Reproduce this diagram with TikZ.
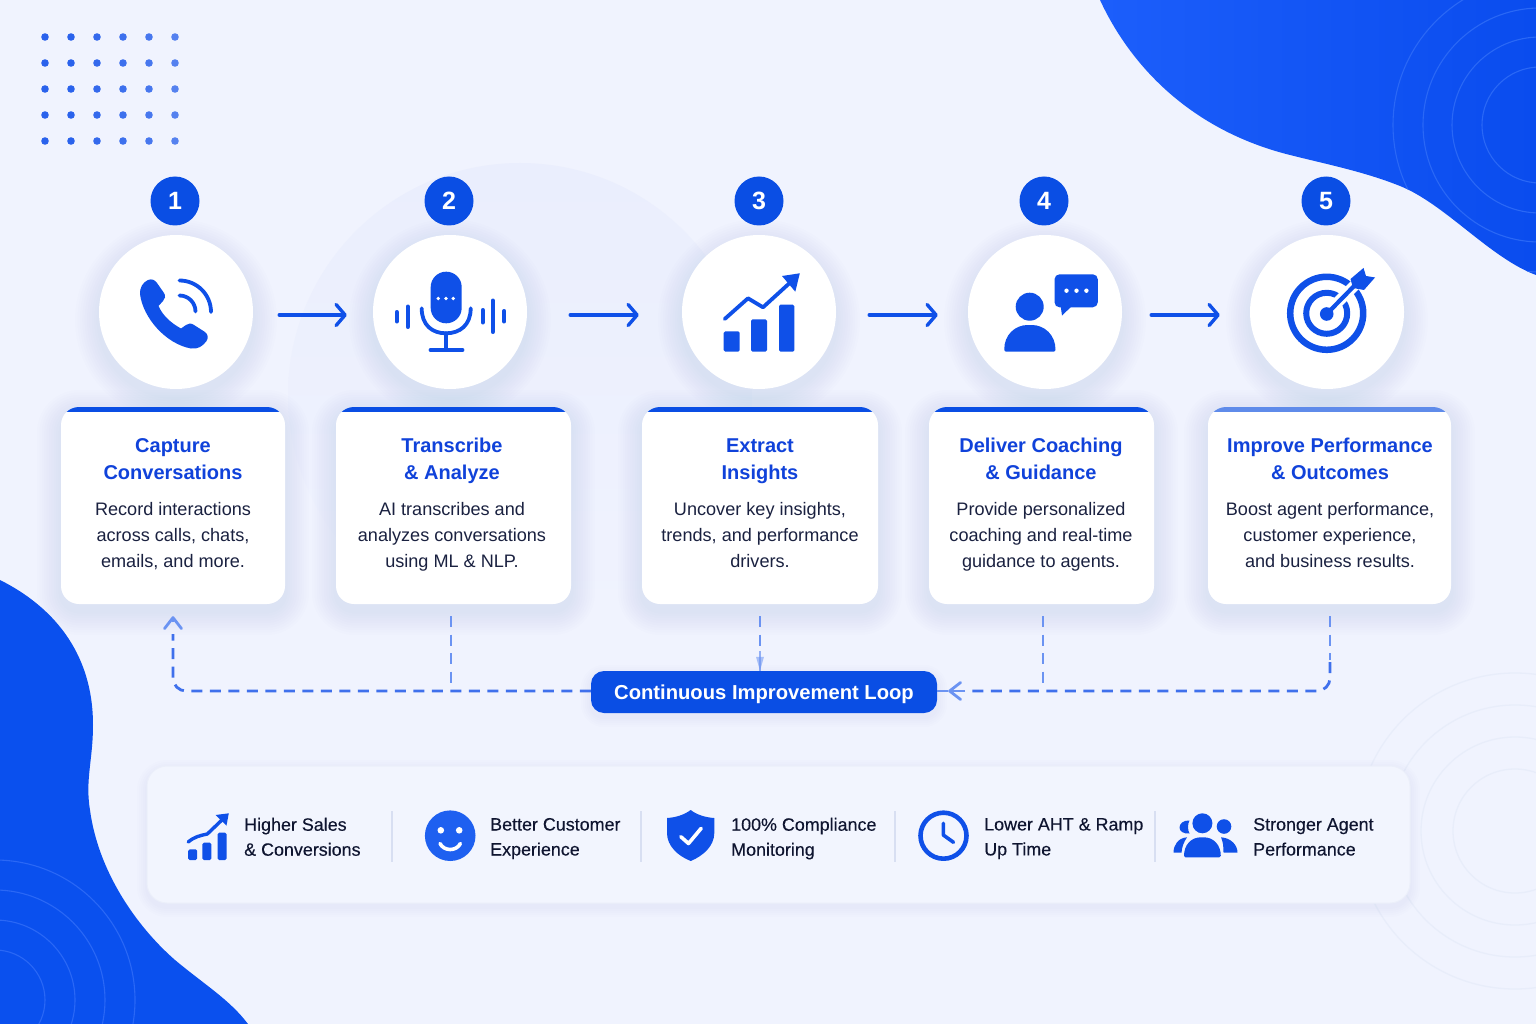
\documentclass[tikz,border=0pt]{standalone}
\usepackage{fontspec}
\setmainfont{Liberation Sans}
\newfontfamily\medfont[FakeBold=0.3]{Liberation Sans}
\usetikzlibrary{arrows.meta,calc}
\definecolor{bgc}{HTML}{F0F3FE}
\definecolor{blobA}{HTML}{1C5EFB}
\definecolor{blobB}{HTML}{0A4CEE}
\definecolor{blobC}{HTML}{0A50EE}
\definecolor{ringA}{HTML}{2A68F6}
\definecolor{ringB}{HTML}{E8EDFA}
\definecolor{halo}{HTML}{EAEEFD}
\definecolor{brand}{HTML}{0A4EE4}
\definecolor{iconblue}{HTML}{0F50E8}
\definecolor{smile}{HTML}{1E60F0}
\definecolor{titleblue}{HTML}{1042DA}
\definecolor{bodyink}{HTML}{1A2140}
\definecolor{panelink}{HTML}{0F1530}
\definecolor{dashc}{HTML}{3F70EC}
\definecolor{dashl}{HTML}{6B93F2}
\definecolor{sepc}{HTML}{D8DFF2}
\definecolor{panelc}{HTML}{F2F5FE}
\definecolor{paneledge}{HTML}{EBEFFA}
\definecolor{shadowc}{HTML}{5068B8}
\definecolor{barsoft}{HTML}{5F8BEA}
\definecolor{dotc}{HTML}{2A62EC}
\tikzset{
  iconcircle/.style={circle,fill=white,minimum size=154pt,inner sep=0pt},
  badge/.style={circle,fill=brand,minimum size=49pt,inner sep=0pt,text=white,font=\bfseries\fontsize{25}{26}\selectfont},
  card/.style={rectangle,fill=white,rounded corners=18pt,inner sep=0pt},
  titletext/.style={align=center,inner sep=0pt,text=titleblue,font=\bfseries\fontsize{20}{27}\selectfont,execute at begin node=\strut,execute at end node=\strut},
  bodytext/.style={align=center,inner sep=0pt,text=bodyink,font=\fontsize{18.1}{26}\selectfont,execute at begin node=\strut,execute at end node=\strut},
  paneltext/.style={anchor=west,align=left,inner sep=0pt,text=panelink,font=\medfont\fontsize{17.9}{25}\selectfont,execute at begin node=\strut,execute at end node=\strut},
  flowarrow/.style={draw=iconblue,line width=3.4pt,line cap=round,-{Straight Barb[length=9pt,width=21pt,line width=3.4pt,round]}},
  loopline/.style={draw=dashc,line width=2.8pt,dash pattern=on 11pt off 7.5pt},
  loopvert/.style={draw=dashl,line width=2.8pt,dash pattern=on 11pt off 7.5pt},
  loophead/.style={draw=dashl,line width=2.8pt,-{Straight Barb[length=11pt,width=17pt,line width=2.8pt,round]}},
  ic/.style={fill=iconblue,draw=none},
  icl/.style={draw=iconblue,line cap=round,line join=round,fill=none},
  wl/.style={draw=white,line cap=round,line join=round,fill=none},
  seprule/.style={draw=sepc,line width=1.8pt},
}
\newcommand\softrect[5]{%
  \foreach \i in {1,...,10}{
    \fill[shadowc,opacity=.0065,rounded corners=#5+\i*2.4] ({#1-\i*2.4},{#2-\i*2.4+7}) rectangle ({#3+\i*2.4},{#4+\i*2.4+7});
  }}
\newcommand\softcirc[3]{%
  \foreach \i in {1,...,10}{
    \fill[shadowc,opacity=.0065] (#1,{#2+8}) circle[radius={#3+\i*2.4}];
  }}
\newcommand\blobTR{(1100,0) .. controls (1130,65) and (1190,130) .. (1290,155) .. controls (1330,165) and (1365,172) .. (1400,186) .. controls (1445,204) and (1490,258) .. (1536,275) -- (1536,0) -- cycle}
\newcommand\blobBL{(0,580) .. controls (50,605) and (93,650) .. (93,725) .. controls (93,760) and (85,780) .. (90,810) .. controls (98,870) and (135,925) .. (175,960) .. controls (205,985) and (230,1000) .. (248,1024) -- (0,1024) -- cycle}
\begin{document}
\begin{tikzpicture}[x=1pt,y=-1pt]
\useasboundingbox (0,0) rectangle (1536,1024);
\fill[bgc] (0,0) rectangle (1536,1024);
% faint disc behind steps 2-3
\shade[top color=halo,bottom color=bgc] (520,395) circle[radius=232];
% blobs
\shade[left color=blobA,right color=blobB] \blobTR;
\begin{scope}
\clip \blobTR;
\foreach \r in {58,88,117,147}{\draw[ringA,line width=1.1pt] (1540,125) circle[radius=\r];}
\end{scope}
\fill[blobC] \blobBL;
\begin{scope}
\clip \blobBL;
\foreach \r in {50,80,110,140}{\draw[ringA,line width=1.1pt] (-5,1000) circle[radius=\r];}
\end{scope}
% rings at lower right
\foreach \r in {62,94,126,158}{\draw[ringB,line width=1.3pt] (1515,831) circle[radius=\r];}
% dot grid
\foreach \y in {37,63,89,115,141}{
  \foreach \x/\o in {45/1,71/1,97/.95,123/.9,149/.85,175/.78}{
    \fill[dotc,opacity=\o] (\x,\y) circle[radius=3.8];
  }}
% shadows
\softcirc{176}{312}{77}\softcirc{450}{312}{77}\softcirc{759}{312}{77}\softcirc{1045}{312}{77}\softcirc{1327}{312}{77}
\softrect{61}{407}{285}{604}{18}\softrect{336}{407}{571}{604}{18}\softrect{642}{407}{878}{604}{18}\softrect{929}{407}{1154}{604}{18}\softrect{1208}{407}{1451}{604}{18}
\foreach \i in {1,...,5}{\fill[shadowc,opacity=.007,rounded corners=20+\i*2] ({147-\i*2},{766-\i*2+4}) rectangle ({1410+\i*2},{903+\i*2+4});}
% icon circles and badges
\node[iconcircle] (c1) at (176,312) {};
\node[iconcircle] (c2) at (450,312) {};
\node[iconcircle] (c3) at (759,312) {};
\node[iconcircle] (c4) at (1045,312) {};
\node[iconcircle] (c5) at (1327,312) {};
\node[badge] (b1) at (175,201) {1};
\node[badge] (b2) at (449,201) {2};
\node[badge] (b3) at (759,201) {3};
\node[badge] (b4) at (1044,201) {4};
\node[badge] (b5) at (1326,201) {5};
% cards
\node[card,minimum width=224pt,minimum height=197pt] (card1) at (173,505.5) {};
\node[card,minimum width=235pt,minimum height=197pt] (card2) at (453.5,505.5) {};
\node[card,minimum width=236pt,minimum height=197pt] (card3) at (760,505.5) {};
\node[card,minimum width=225pt,minimum height=197pt] (card4) at (1041.5,505.5) {};
\node[card,minimum width=243pt,minimum height=197pt] (card5) at (1329.5,505.5) {};
\foreach \a/\b/\c in {61/285/brand,336/571/brand,642/878/brand,929/1154/brand,1208/1451/barsoft}{
  \begin{scope}
    \clip[rounded corners=18pt] (\a,407) rectangle (\b,604);
    \fill[\c] (\a,407) rectangle (\b,411.5);
  \end{scope}
}
% card text
\node[titletext] (t1) at (173,463) {Capture\\Conversations};
\node[titletext] (t2) at (452,463) {Transcribe\\\& Analyze};
\node[titletext] (t3) at (760,463) {Extract\\Insights};
\node[titletext] (t4) at (1041,463) {Deliver Coaching\\\& Guidance};
\node[titletext] (t5) at (1330,463) {Improve Performance\\\& Outcomes};
\node[bodytext] (d1) at (173,538.5) {Record interactions\\across calls, chats,\\emails, and more.};
\node[bodytext] (d2) at (452,538.5) {AI transcribes and\\analyzes conversations\\using ML \& NLP.};
\node[bodytext] (d3) at (760,538.5) {Uncover key insights,\\trends, and performance\\drivers.};
\node[bodytext] (d4) at (1041,538.5) {Provide personalized\\coaching and real-time\\guidance to agents.};
\node[bodytext] (d5) at (1330,538.5) {Boost agent performance,\\customer experience,\\and business results.};
% flow arrows
\draw[flowarrow,shorten <=26pt,shorten >=26pt] ([yshift=-3pt]c1.east) -- ([yshift=-3pt]c2.west);
\draw[flowarrow,shorten <=43pt,shorten >=43pt] ([yshift=-3pt]c2.east) -- ([yshift=-3pt]c3.west);
\draw[flowarrow,shorten <=33pt,shorten >=30pt] ([yshift=-3pt]c3.east) -- ([yshift=-3pt]c4.west);
\draw[flowarrow,shorten <=29pt,shorten >=30pt] ([yshift=-3pt]c4.east) -- ([yshift=-3pt]c5.west);
% loop
\foreach \i in {1,...,5}{\fill[shadowc,opacity=.012,rounded corners=13+\i*2] ({591-\i*2},{671-\i*2+4}) rectangle ({937+\i*2},{713+\i*2+4});}
\node[rectangle,fill=brand,rounded corners=13pt,minimum width=346pt,minimum height=42pt,inner sep=0pt,text=white,font=\bfseries\fontsize{20.2}{24}\selectfont] (loop) at (764,692) {\smash{\raisebox{-7pt}{Continuous Improvement Loop}}};
% dashed returns
\draw[loopline,rounded corners=13pt,shorten >=30pt] ([yshift=1pt]loop.west) -| (card1.south);
\draw[loophead,shorten <=12pt] ([yshift=-30pt]card1.south) -- ([yshift=-12pt]card1.south);
\draw[loopvert,shorten <=12pt] ([xshift=-2.5pt]card2.south) -- ([xshift=-2.5pt]card2.south |- 0,684);
\draw[loopvert,shorten <=12pt,shorten >=20pt] (card3.south) -- (card3.south |- loop.north);
\draw[dashl,opacity=.7,line width=2.4pt] ([yshift=20pt]card3.south |- loop.north) -- (card3.south |- loop.north);
\fill[dashl,opacity=.55] ([xshift=-4pt,yshift=14pt]card3.south |- loop.north) -- ([xshift=4pt,yshift=14pt]card3.south |- loop.north) -- (card3.south |- loop.north) -- cycle;
\draw[loopvert,shorten <=12pt] ([xshift=1.5pt]card4.south) -- ([xshift=1.5pt]card4.south |- 0,684);
\draw[loopvert,shorten <=12pt] ([xshift=.5pt]card5.south) -- ([xshift=.5pt]card5.south |- 0,660);
\draw[loopline,rounded corners=13pt,shorten >=30pt] ([xshift=.5pt]card5.south |- 0,662) |- ([yshift=1pt]loop.east);
\draw[loophead] ([xshift=28pt,yshift=1pt]loop.east) -- ([xshift=11pt,yshift=1pt]loop.east);
\draw[dashl,line width=2.8pt] ([xshift=11pt,yshift=1pt]loop.east) -- ([yshift=1pt]loop.east);
% bottom panel
\node[rectangle,fill=panelc,draw=paneledge,line width=1pt,rounded corners=20pt,minimum width=1263pt,minimum height=137pt,inner sep=0pt] (panel) at (778.5,834.5) {};
\foreach \x in {392,641,895,1155}{\draw[seprule] (\x,811) -- (\x,862);}
\node[paneltext] (p1) at (244,840.5) {Higher Sales\\\& Conversions};
\node[paneltext] (p2) at (490,840.5) {Better Customer\\Experience};
\node[paneltext] (p3) at (731,840.5) {100\% Compliance\\Monitoring};
\node[paneltext] (p4) at (984,840.5) {Lower AHT \& Ramp\\Up Time};
\node[paneltext] (p5) at (1253,840.5) {Stronger Agent\\Performance};
% ---- icon: phone
\fill[ic,line join=round] (148,280) .. controls (152,278.5) and (155,280) .. (157,283) -- (164,293) .. controls (166,296) and (165,299) .. (163,301) -- (158.5,306) .. controls (163,316) and (171,323) .. (181,328.5) -- (186,325) .. controls (188.5,323) and (191,323) .. (194,325) -- (205,332) .. controls (208,334) and (208.5,338) .. (206.5,341) .. controls (203,346) and (198,349.5) .. (191,348.5) .. controls (166,344) and (143,318) .. (140,294) .. controls (139.5,288) and (143,282) .. (148,280) -- cycle;
\draw[icl,line width=3.8pt] (179.5,280.5) arc[start angle=-90,end angle=0,radius=31.5];
\draw[icl,line width=3.8pt] (179.5,295.5) arc[start angle=-90,end angle=0,radius=16];
% ---- icon: microphone
\fill[ic,rounded corners=15.4pt] (430.7,271.7) rectangle (461.7,323.3);
\foreach \x in {438.3,446,453.3}{\fill[white] (\x,298.5) circle[radius=1.9];}
\draw[icl,line width=3.8pt] (421.7,308.3) .. controls (421.7,325) and (432,333.3) .. (446,333.3) .. controls (460,333.3) and (470.7,325) .. (470.7,308.3);
\draw[icl,line width=3.8pt] (446,333.3) -- (446,350) (430.5,350) -- (462.5,350);
\foreach \x/\a/\b in {396.7/312/321.5,407.7/306.5/327,482.7/310/322.5,492.7/300.5/332,504.3/311/321.5}{\draw[icl,line width=4pt] (\x,\a) -- (\x,\b);}
% ---- icon: chart
\fill[ic,rounded corners=1.5pt] (723.7,331.3) rectangle (739.6,351.7);
\fill[ic,rounded corners=1.5pt] (751,319.3) rectangle (767,351.7);
\fill[ic,rounded corners=1.5pt] (779,304.7) rectangle (794.3,351.7);
\draw[icl,line width=3.8pt] (724.7,319) -- (748,298.3) -- (763,307.3) -- (790,282.7);
\fill[ic] (782,276) -- (799.8,273.3) -- (795.3,291.7) -- cycle;
% ---- icon: coach
\fill[ic] (1029.7,306.7) circle[radius=14];
\fill[ic,rounded corners=2pt] (1004.3,351.7) .. controls (1004,335) and (1015,325) .. (1029.7,325) .. controls (1044.5,325) and (1055.5,335) .. (1055.5,351.7) -- cycle;
\fill[ic,rounded corners=5pt] (1054.5,274.3) rectangle (1097.8,307.3);
\fill[ic] (1060.5,305) -- (1062,315.5) -- (1073,305) -- cycle;
\foreach \x in {1066.5,1076.5,1086.4}{\fill[white] (\x,290.7) circle[radius=2.2];}
% ---- icon: target
\draw[icl,line width=6.5pt] (1326.7,313.3) circle[radius=36.5];
\draw[icl,line width=6pt] (1326.7,313.3) circle[radius=20.5];
\draw[white,line width=11pt] (1326.7,313.3) -- (1358,282);
\fill[ic] (1326.7,314) circle[radius=6.8];
\draw[icl,line width=4.2pt] (1326.7,314) -- (1359,281);
\fill[ic,line join=round] (1363.5,268) -- (1366,276) -- (1375,277.5) -- (1364,290) -- (1353,288) -- (1350.5,279) -- cycle;
% ---- bottom icon: chart
\fill[ic,rounded corners=1.5pt] (188.2,849.3) rectangle (197.1,860);
\fill[ic,rounded corners=1.5pt] (202.4,842.7) rectangle (211.4,860);
\fill[ic,rounded corners=1.5pt] (217.6,832.7) rectangle (226.5,860);
\draw[icl,line width=3.4pt] (188.2,842) .. controls (194,837) and (200,835.5) .. (207.3,834) -- (223.7,818.3);
\fill[ic] (215.5,815) -- (228.8,813.3) -- (226.5,825.5) -- cycle;
% ---- bottom icon: smile
\fill[smile] (450.2,835.7) circle[radius=25.3];
\fill[white] (440.8,830.3) circle[radius=3.3] (459.2,830.3) circle[radius=3.3];
\draw[wl,line width=3.6pt] (440,843.5) .. controls (444,851.5) and (456.5,851.5) .. (460.4,843.5);
% ---- bottom icon: shield
\fill[ic] (690.7,810) .. controls (697,815) and (706,817.5) .. (714.3,818) -- (714.3,833) .. controls (714.3,846) and (703,856) .. (690.7,861) .. controls (678,856) and (667,846) .. (667,833) -- (667,818) .. controls (675.5,817.5) and (684,815) .. (690.7,810) -- cycle;
\draw[wl,line width=3.6pt] (680.8,836.7) -- (688.5,843.5) -- (701.2,828.3);
% ---- bottom icon: clock
\draw[icl,line width=4.6pt] (943.5,835.7) circle[radius=23];
\draw[icl,line width=3.6pt] (943.3,823.3) -- (943.3,835) -- (953.5,842.3);
% ---- bottom icon: people
\fill[ic] (1202.4,823.3) circle[radius=10];
\fill[ic,rounded corners=1.5pt] (1184,857.3) .. controls (1184,845) and (1191,837.3) .. (1202.4,837.3) .. controls (1213.5,837.3) and (1220.8,845) .. (1220.8,857.3) -- cycle;
\fill[ic] (1189.5,820.5) .. controls (1183,820) and (1179.5,824) .. (1179.5,827.5) .. controls (1179.5,831) and (1183,834) .. (1189.5,833.5) .. controls (1187.5,830) and (1187.5,824) .. (1189.5,820.5) -- cycle;
\fill[ic] (1224,826.5) circle[radius=7.3];
\fill[ic] (1187,837.3) .. controls (1178,838) and (1173.5,845) .. (1173.5,852.7) -- (1181.5,852.7) .. controls (1182,846) and (1184,842) .. (1187,837.3) -- cycle;
\fill[ic] (1221,837.3) .. controls (1231,838) and (1237.5,845) .. (1237.5,852.7) -- (1223.5,852.7) .. controls (1223.5,846) and (1223,842) .. (1221,837.3) -- cycle;
\end{tikzpicture}
\end{document}
